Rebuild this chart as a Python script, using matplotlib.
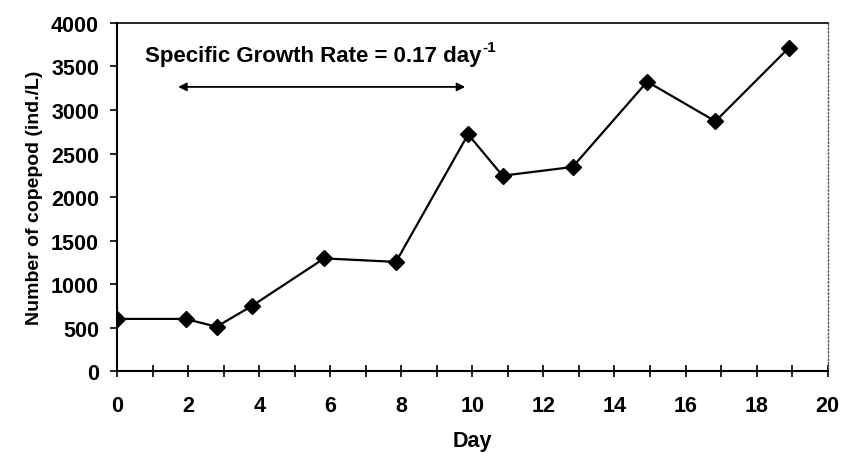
import matplotlib
matplotlib.use("Agg")
import matplotlib.pyplot as plt
from matplotlib.ticker import MultipleLocator

plt.rcParams['font.family'] = ['Liberation Sans', 'DejaVu Sans']
plt.rcParams['font.weight'] = 'bold'

# copepod counts over the culture period
day = [0, 1.93, 2.8, 3.8, 5.83, 7.85, 9.88, 10.85, 12.82, 14.92, 16.84, 18.91]
count = [600, 600, 510, 750, 1295, 1255, 2720, 2245, 2345, 3325, 2870, 3715]

rate_text = "Specific Growth Rate = 0.17 day"
rate_unit = "-1"
arrow_start = 1.72
arrow_end = 9.8

fig = plt.figure(figsize=(8.42, 4.6), dpi=100)
ax = fig.add_axes([0.139, 0.191, 0.844, 0.757])

ax.plot(day, count, color='black', linewidth=1.6, marker='D', markersize=8,
        markerfacecolor='black', markeredgecolor='black')

ax.annotate('', xy=(arrow_start, 3265), xytext=(arrow_end, 3265),
            arrowprops=dict(arrowstyle='<|-|>', color='black', linewidth=1.3,
                            mutation_scale=12, shrinkA=0, shrinkB=0))
t = ax.text(0.8, 3630, rate_text, fontsize=16, fontweight='bold', va='center')
ax.annotate(rate_unit, xy=(1, 0.55), xycoords=t, fontsize=11, fontweight='bold',
            va='bottom', ha='left', xytext=(0.5, 0), textcoords='offset points')

ax.set_xlim(0, 20)
ax.set_ylim(0, 4000)
ax.xaxis.set_major_locator(MultipleLocator(2))
ax.xaxis.set_minor_locator(MultipleLocator(1))
ax.yaxis.set_major_locator(MultipleLocator(500))

ax.tick_params(axis='x', which='both', direction='inout', length=8, width=1.2,
               labelsize=15.5, pad=13)
ax.tick_params(axis='y', which='major', direction='out', length=5, width=1.2,
               labelsize=15.5, pad=8)

ax.spines['left'].set_linewidth(1.5)
ax.spines['bottom'].set_linewidth(1.5)
ax.spines['top'].set_linewidth(1.2)
ax.spines['right'].set_linewidth(1.0)
ax.spines['right'].set_linestyle(':')
ax.spines['right'].set_color('#555555')

ax.set_xlabel('Day', fontsize=15.5, fontweight='bold', labelpad=10)
ax.set_ylabel('Number of copepod (ind./L)', fontsize=14, fontweight='bold', labelpad=6)

fig.savefig('out.png', dpi=100)
